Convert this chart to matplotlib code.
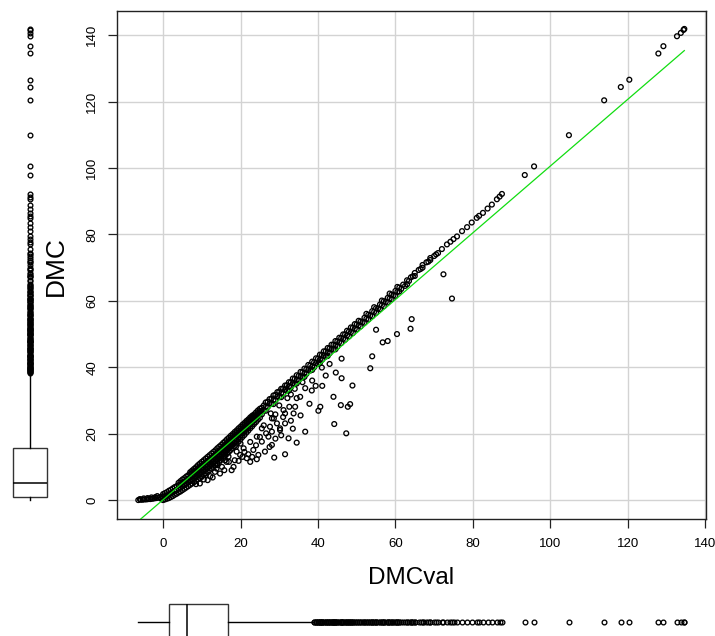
import numpy as np
import matplotlib
matplotlib.use("Agg")
import matplotlib.pyplot as plt

plt.rcParams['font.family'] = ['Liberation Sans', 'DejaVu Sans']

# ---------------- data ----------------
# flat part at very low DMCval
flat_pts = [(-6.4, 0.0), (-5.8, 0.1), (-5.3, 0.1), (-4.8, 0.2), (-4.3, 0.2), (-3.8, 0.3),
            (-3.3, 0.3), (-2.8, 0.4), (-2.3, 0.5), (-1.8, 0.6), (-1.3, 0.7), (-0.8, 0.9),
            (-0.3, 1.1), (-3.0, 0.8), (-1.5, 1.2), (-0.5, 0.4), (-6.0, 0.3), (-5.0, 0.5),
            (-4.0, 0.6), (-2.0, 0.9)]

# dense main band (DMCval, DMC)
band_pts = [
    (0, 0.0), (0, 1.0), (0, 1.8),
    (1, 0.4), (1, 1.4), (1, 2.4),
    (2, 0.9), (2, 2.0), (2, 3.1),
    (3, 1.6), (3, 2.7), (3, 3.9),
    (4, 2.3), (4, 3.4), (4, 4.5), (4, 5.2),
    (5, 3.0), (5, 4.1), (5, 5.2), (5, 6.2),
    (6, 3.8), (6, 4.9), (6, 6.0), (6, 7.1),
    (7, 4.6), (7, 5.7), (7, 6.8), (7, 7.9), (7, 8.4),
    (8, 5.4), (8, 6.5), (8, 7.6), (8, 8.6), (8, 9.4),
    (9, 6.3), (9, 7.4), (9, 8.5), (9, 9.5), (9, 10.5),
    (10, 7.2), (10, 8.3), (10, 9.4), (10, 10.5), (10, 11.5),
    (11, 8.1), (11, 9.2), (11, 10.3), (11, 11.4), (11, 12.5),
    (12, 9.0), (12, 10.1), (12, 11.2), (12, 12.3), (12, 13.5),
    (13, 10.0), (13, 11.1), (13, 12.2), (13, 13.3), (13, 14.5),
    (14, 11.0), (14, 12.1), (14, 13.2), (14, 14.4), (14, 15.6),
    (15, 12.1), (15, 13.2), (15, 14.3), (15, 15.5), (15, 16.6),
    (16, 13.3), (16, 14.4), (16, 15.5), (16, 16.6), (16, 17.7),
    (17, 14.5), (17, 15.6), (17, 16.7), (17, 17.8), (17, 18.8),
    (18, 15.7), (18, 16.8), (18, 17.9), (18, 19.0), (18, 19.9),
    (19, 17.0), (19, 18.1), (19, 19.2), (19, 20.2), (19, 21.0),
    (20, 18.3), (20, 19.4), (20, 20.5), (20, 21.4), (20, 22.1),
    (21, 19.6), (21, 20.7), (21, 21.7), (21, 22.6), (21, 23.2),
    (22, 20.9), (22, 22.0), (22, 23.0), (22, 23.8), (22, 24.3),
    (23, 22.2), (23, 23.3), (23, 24.3), (23, 25.0), (23, 25.4),
    (24, 23.5), (24, 24.6), (24, 25.6), (24, 26.4),
    (25, 24.8), (25, 25.9), (25, 26.8), (25, 27.5),
    (26, 27.0), (26, 28.5), (27, 28.0), (27, 29.6), (28, 29.0), (28, 30.6),
    (29, 30.0), (29, 31.7), (30, 31.0), (30, 32.7), (31, 32.0), (31, 33.6),
    (32, 33.0), (32, 34.6), (33, 34.0), (33, 35.5), (34, 35.0), (34, 36.5),
    (35, 36.0), (35, 37.4), (36, 37.0), (36, 38.5), (37, 38.0), (37, 39.4),
    (38, 39.0), (38, 40.5), (39, 40.0), (39, 41.5), (40, 41.0), (40, 42.6),
    (41, 42.2), (41, 43.7), (42, 43.2), (42, 44.8), (43, 44.2), (43, 45.7),
    (44, 45.3), (44, 46.8), (45, 46.2), (45, 47.8), (46, 47.3), (46, 48.8),
    (47, 48.3), (47, 49.9), (48, 49.3), (48, 50.8), (49, 50.3), (49, 51.9),
    (50, 51.4), (50, 52.9), (51, 52.3), (51, 53.8), (52, 53.4), (52, 54.9),
    (53, 54.4), (53, 55.8), (54, 55.4), (54, 56.9), (55, 56.4), (55, 57.8),
    (56, 57.5), (56, 58.9), (57, 58.4), (57, 59.9), (58, 59.5), (58, 60.9),
    (59, 60.5), (59, 61.9), (60, 61.5), (60, 63.0),
    (61, 62.8), (61, 64.0), (62, 64.9), (63, 65.0), (63, 66.2), (64, 67.1),
    (65, 67.5), (65, 68.4), (66, 69.3), (67, 70.0), (67, 70.8), (68, 71.6),
    (69, 72.3), (69, 72.9), (70, 73.5), (71, 74.4), (72, 75.6),
    (73.3, 77.0), (74.2, 77.8), (75.0, 78.6), (75.9, 79.4), (77.2, 81.0),
    (78.5, 82.2), (79.7, 83.6), (81.0, 85.0), (81.6, 85.6), (82.6, 86.5),
    (83.8, 87.8), (84.9, 89.0), (86.2, 90.6), (86.9, 91.4), (87.5, 92.2),
    (93.4, 97.9), (95.8, 100.5), (104.8, 109.9), (113.9, 120.4), (118.2, 124.4),
    (120.4, 126.6), (127.9, 134.5), (129.2, 136.7), (132.7, 139.7), (133.7, 140.7),
    (134.4, 141.6), (134.6, 141.9),
]

# more points inside the dense band (between the columns above)
band_mid_pts = [
    (0.5, 0.2), (0.5, 1.2), (0.5, 2.1),
    (1.5, 0.6), (1.5, 1.7), (1.5, 2.8),
    (2.5, 1.2), (2.5, 2.3), (2.5, 3.5),
    (3.5, 1.9), (3.5, 3.0), (3.5, 4.2),
    (4.5, 2.6), (4.5, 3.7), (4.5, 4.8), (4.5, 5.7),
    (5.5, 3.4), (5.5, 4.5), (5.5, 5.6), (5.5, 6.6),
    (6.5, 4.2), (6.5, 5.3), (6.5, 6.4), (6.5, 7.5),
    (7.5, 5.0), (7.5, 6.1), (7.5, 7.2), (7.5, 8.2), (7.5, 8.9),
    (8.5, 5.8), (8.5, 6.9), (8.5, 8.0), (8.5, 9.0), (8.5, 9.9),
    (9.5, 6.7), (9.5, 7.8), (9.5, 8.9), (9.5, 10.0), (9.5, 11.0),
    (10.5, 7.6), (10.5, 8.7), (10.5, 9.8), (10.5, 10.9), (10.5, 12.0),
    (11.5, 8.5), (11.5, 9.6), (11.5, 10.7), (11.5, 11.8), (11.5, 13.0),
    (12.5, 9.5), (12.5, 10.6), (12.5, 11.7), (12.5, 12.8), (12.5, 14.0),
    (13.5, 10.5), (13.5, 11.6), (13.5, 12.7), (13.5, 13.8), (13.5, 15.0),
    (14.5, 11.5), (14.5, 12.6), (14.5, 13.7), (14.5, 14.9), (14.5, 16.1),
    (15.5, 12.7), (15.5, 13.8), (15.5, 14.9), (15.5, 16.0), (15.5, 17.2),
    (16.5, 13.9), (16.5, 15.0), (16.5, 16.1), (16.5, 17.2), (16.5, 18.3),
    (17.5, 15.1), (17.5, 16.2), (17.5, 17.3), (17.5, 18.4), (17.5, 19.4),
    (18.5, 16.3), (18.5, 17.4), (18.5, 18.5), (18.5, 19.6), (18.5, 20.5),
    (19.5, 17.6), (19.5, 18.7), (19.5, 19.8), (19.5, 20.8), (19.5, 21.6),
    (20.5, 19.0), (20.5, 20.1), (20.5, 21.1), (20.5, 22.0), (20.5, 22.7),
    (21.5, 20.3), (21.5, 21.4), (21.5, 22.4), (21.5, 23.2), (21.5, 23.8),
    (22.5, 21.6), (22.5, 22.7), (22.5, 23.7), (22.5, 24.4), (22.5, 24.9),
    (23.5, 22.9), (23.5, 24.0), (23.5, 25.0), (23.5, 25.8),
    (24.5, 24.2), (24.5, 25.3), (24.5, 26.2), (24.5, 27.0),
    (25.5, 25.8), (25.5, 26.8), (25.5, 27.8),
    (26.5, 28.1), (27.5, 29.1), (28.5, 30.1), (29.5, 31.2), (30.5, 32.2),
    (31.5, 33.2), (32.5, 34.2), (33.5, 35.2), (34.5, 36.2), (35.5, 37.2),
    (36.5, 38.2), (37.5, 39.2), (38.5, 40.2), (39.5, 41.3), (40.5, 42.3),
    (41.5, 43.5), (42.5, 44.5), (43.5, 45.5), (44.5, 46.6), (45.5, 47.6),
    (46.5, 48.6), (47.5, 49.6), (48.5, 50.6), (49.5, 51.6), (50.5, 52.6),
    (51.5, 53.6), (52.5, 54.6), (53.5, 55.6), (54.5, 56.7), (55.5, 57.7),
    (56.5, 58.7), (57.5, 59.7), (58.5, 60.7), (59.5, 61.7), (60.5, 62.7),
    (61.5, 63.6), (62.5, 64.5), (63.5, 66.0), (64.5, 67.4), (66.5, 69.6),
    (68.5, 71.8), (70.5, 74.0),
]

# upper and lower edge points of the band between DMCval 26 and 60
band_edge_pts = [
    (26.5, 29.4), (27.5, 30.4), (28.5, 31.5), (29.5, 32.5), (30.5, 33.5),
    (31.5, 34.5), (32.5, 35.5), (33.5, 36.6), (34.5, 37.6), (35.5, 38.6),
    (36.5, 39.6), (37.5, 40.7), (38.5, 41.7), (39.5, 42.7), (40.5, 43.8),
    (41.5, 44.8), (42.5, 45.8), (43.5, 46.8), (44.5, 47.9), (45.5, 48.9),
    (46.5, 49.9), (47.5, 51.0), (48.5, 52.0), (49.5, 53.0), (50.5, 54.0),
    (52.5, 56.1), (54.5, 58.1), (56.5, 60.1), (58.5, 62.2), (60.5, 64.2),
    (26.5, 26.9), (28.5, 28.9), (30.5, 31.0), (32.5, 33.0), (34.5, 35.1),
    (36.5, 37.1), (38.5, 39.2), (40.5, 41.3), (42.5, 43.4), (44.5, 45.4),
]

# scattered points below the main band
low_pts = [
    (72.4, 68.0), (74.6, 60.7), (64.2, 54.5), (63.9, 51.6), (60.4, 50.0), (58.0, 47.9),
    (56.7, 47.5), (55.0, 51.3), (54.0, 43.3), (53.5, 39.7), (48.9, 34.5), (46.1, 42.6),
    (44.6, 38.4), (46.1, 36.7), (48.3, 28.9), (47.7, 28.1), (45.9, 28.6), (44.2, 22.9),
    (47.3, 20.1), (41.0, 39.9), (44.0, 31.1), (41.1, 34.4), (39.4, 34.4), (38.4, 33.0),
    (36.7, 33.7), (40.6, 28.1), (40.1, 26.9), (35.4, 31.1), (34.5, 30.7), (34.1, 28.1),
    (33.7, 26.1), (32.6, 28.1), (31.5, 26.1), (33.0, 23.9), (30.2, 21.6), (36.7, 20.6),
    (34.5, 17.3), (32.1, 30.7), (28.6, 24.6), (27.8, 26.1), (27.6, 22.1), (27.2, 19.1),
    (25.5, 21.6), (24.2, 19.1), (31.5, 13.8), (28.7, 12.8), (28.1, 16.6), (26.3, 14.6),
    (24.2, 12.3), (22.5, 11.5), (24.6, 13.6), (21.6, 12.6), (19.9, 13.6), (18.2, 10.0),
    (17.7, 9.0), (16.4, 11.5), (14.7, 8.0), (13.4, 8.5), (25.5, 17.6), (23.3, 15.1),
    (20.8, 15.6), (19.0, 14.6), (16.9, 13.1), (26.6, 20.1), (28.1, 20.6), (30.2, 21.1),
    (28.1, 24.6), (29.4, 23.1), (31.5, 23.1), (32.4, 18.6), (31.1, 27.1),
    (9.5, 5.0), (10.5, 6.2), (11.5, 6.0), (12.2, 7.2), (12.8, 6.8), (13.8, 9.5),
    (15.2, 10.0), (15.8, 9.0), (16.0, 12.0), (17.0, 11.5), (18.5, 12.0), (19.5, 11.8),
    (20.5, 13.0), (21.0, 14.5), (22.0, 13.8), (23.0, 13.0), (10.0, 7.0), (8.5, 4.8),
    (11.0, 7.5), (14.0, 10.5), (18.8, 16.0), (20.0, 17.0), (22.5, 17.5), (24.0, 16.5),
    (25.0, 19.0), (26.0, 22.5), (29.0, 18.5), (27.5, 16.0), (30.5, 19.5), (33.5, 21.5),
    (35.5, 25.5), (37.8, 29.0), (38.5, 36.0), (42.0, 37.5), (43.0, 41.0), (36.0, 35.5),
    (33.0, 31.8), (30.0, 28.5), (29.0, 25.8), (31.0, 25.0), (34.0, 33.5),
]

# regression line  DMC = intercept + slope * DMCval
fit_intercept = 0.1
fit_slope = 1.005

# boxplot summary statistics of the full data
dmc_box = dict(q1=1.0, med=5.1, q3=15.8, whislo=0.0, whishi=38.2)
dmcval_box = dict(q1=1.55, med=6.2, q3=16.8, whislo=-6.4, whishi=38.8)

x_ticks = [0, 20, 40, 60, 80, 100, 120, 140]
y_ticks = [0, 20, 40, 60, 80, 100, 120, 140]

# ---------------- assemble ----------------
pts = np.array(flat_pts + band_pts + band_mid_pts + band_edge_pts + low_pts, dtype=float)
dmcval = pts[:, 0]
dmc = pts[:, 1]

W, H = 715, 636
fig = plt.figure(figsize=(W / 100, H / 100), dpi=100)

def rect(l, t, r, b):
    return [l / W, 1 - b / H, (r - l) / W, (b - t) / H]

ax = fig.add_axes(rect(117, 11, 706, 519))
ax.set_xlim(-11.9, 140.2)
ax.set_ylim(-5.7, 147.3)
ax.set_xticks(x_ticks)
ax.set_yticks(y_ticks)
ax.grid(True, color='#d3d3d3', lw=1.0)
ax.set_axisbelow(True)
for s in ax.spines.values():
    s.set_color('#222222')
    s.set_linewidth(1.0)
ax.tick_params(direction='out', length=6.5, width=0.9, color='#222222',
               labelsize=9.5, pad=7)
for lab in ax.get_yticklabels():
    lab.set_rotation(90)
    lab.set_va('center')

ax.scatter(dmcval, dmc, s=12, facecolors='none', edgecolors='black',
           linewidths=0.95, zorder=3)
xl = np.array([dmcval.min(), dmcval.max()])
ax.plot(xl, fit_intercept + fit_slope * xl, color='#11dd11', lw=0.9, zorder=4)

fig.text(411 / W, 1 - 578 / H, 'DMCval', ha='center', va='center', fontsize=17.5)
fig.text(56 / W, 1 - 266 / H, 'DMC', ha='center', va='center', fontsize=19,
         rotation=90)

flier_kw = dict(marker='o', markersize=3.4, markerfacecolor='none',
                markeredgecolor='black', markeredgewidth=0.95, linestyle='none')
box_kw = dict(showcaps=False, patch_artist=True,
              boxprops=dict(facecolor='white', edgecolor='#333333', lw=1.0),
              medianprops=dict(color='black', lw=1.1),
              whiskerprops=dict(color='black', lw=1.0),
              flierprops=flier_kw)

# left boxplot (DMC)
axl = fig.add_axes(rect(0, 11, 60, 519))
axl.set_ylim(ax.get_ylim())
axl.set_xlim(-1, 1)
st = dict(dmc_box)
st['fliers'] = dmc[dmc > dmc_box['whishi']]
axl.bxp([st], positions=[0], widths=34 / 30, vert=True, **box_kw)
axl.axis('off')

# bottom boxplot (DMCval)
axb = fig.add_axes(rect(117, 586, 706, 658))
axb.set_xlim(ax.get_xlim())
axb.set_ylim(-1, 1)
st = dict(dmcval_box)
st['fliers'] = dmcval[dmcval > dmcval_box['whishi']]
axb.bxp([st], positions=[0], widths=1.0, vert=False, **box_kw)
axb.axis('off')

fig.savefig('out.png', dpi=100)
